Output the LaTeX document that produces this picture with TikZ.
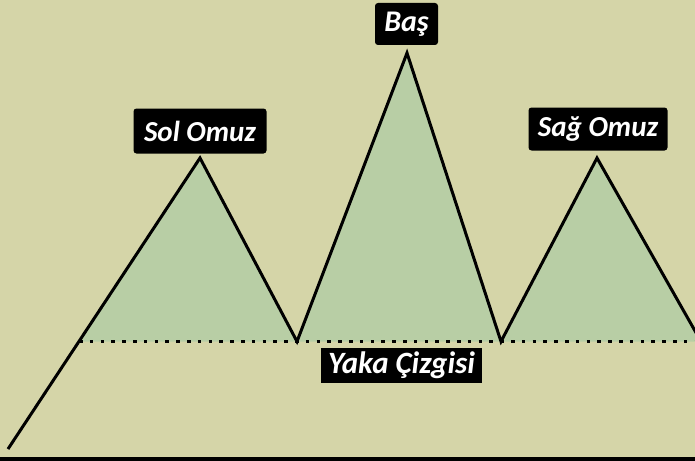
\documentclass[tikz,border=0pt]{standalone}
\usepackage{fontspec}
\setmainfont{Carlito}
\definecolor{bgc}{RGB}{213,213,168}
\definecolor{fillg}{RGB}{184,206,165}
\begin{document}
\begin{tikzpicture}[x=1pt,y=-1pt,
  lbl/.style={fill=black,text=white,font=\fontsize{29}{29}\selectfont\bfseries\itshape,rounded corners=3pt,inner sep=0pt,align=center},
  trend/.style={line width=3pt,line join=miter,black},
  neck/.style={line width=3.5pt,dash pattern=on 3.5pt off 7.3pt,black}]
\useasboundingbox (0,0) rectangle (695,460);
\fill[bgc] (0,0) rectangle (695,460);
\coordinate (S) at (8,449);
\coordinate (P1) at (200,158);
\coordinate (V1) at (297,341.5);
\coordinate (P2) at (407,53);
\coordinate (V2) at (501,341.5);
\coordinate (P3) at (597,158);
\coordinate (R) at (701,341.5);
\coordinate (L) at (79,341.5);
\coordinate (E) at (700,341.5);
\begin{scope}
\clip (0,0) rectangle (695,460);
\fill[fillg] (L) -- (P1) -- (V1) -- cycle;
\fill[fillg] (V1) -- (P2) -- (V2) -- cycle;
\fill[fillg] (V2) -- (P3) -- (R) -- cycle;
\draw[neck] (L) -- (E);
\draw[trend] (S) -- (P1) -- (V1) -- (P2) -- (V2) -- (P3) -- (R);
\end{scope}
\fill[black] (0,457) rectangle (695,461);
\node[lbl,minimum width=133pt,minimum height=45pt] (sol) at (200,131) {Sol Omuz};
\node[lbl,font=\fontsize{30}{30}\selectfont\bfseries\itshape,minimum width=63pt,minimum height=42pt] (bas) at (406.5,24) {Baş};
\node[lbl,minimum width=139pt,minimum height=43pt] (sag) at (598,129) {Sağ Omuz};
\node[lbl,font=\fontsize{31}{31}\selectfont\bfseries\itshape,rounded corners=0pt,minimum width=161pt,minimum height=35pt] (yaka) at (401.5,365.5) {Yaka Çizgisi};
\end{tikzpicture}
\end{document}
